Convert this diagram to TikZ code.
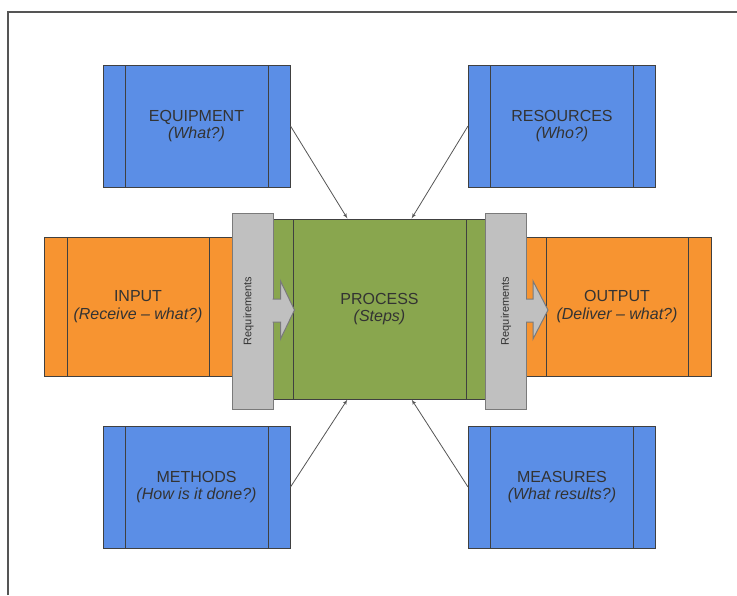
\documentclass[tikz,border=0pt]{standalone}
\usepackage{fontspec}
\setmainfont{Liberation Sans}
\usetikzlibrary{shapes,arrows,calc}
\definecolor{supblue}{HTML}{5B8EE6}
\definecolor{floworange}{HTML}{F79431}
\definecolor{coregreen}{HTML}{89A64E}
\definecolor{reqgray}{HTML}{C0C0C0}
\definecolor{edgegray}{HTML}{404040}
\definecolor{reqedge}{HTML}{7A7A7A}
\definecolor{textgray}{HTML}{333333}
\definecolor{linkgray}{HTML}{555555}
\tikzset{bars/.style={path picture={
  \draw[edgegray, line width=1pt] ([xshift=#1]path picture bounding box.north west) -- ([xshift=#1]path picture bounding box.south west);
  \draw[edgegray, line width=1pt] ([xshift=-#1]path picture bounding box.north east) -- ([xshift=-#1]path picture bounding box.south east);}}}
\tikzstyle{box} = [rectangle, draw=edgegray, line width=1pt, text=textgray,
    align=center, font=\fontsize{16}{17.5}\selectfont]
\tikzstyle{support} = [box, fill=supblue, bars=22pt, minimum width=187, minimum height=122]
\tikzstyle{flow} = [box, fill=floworange, bars=23pt, minimum width=188, minimum height=139]
\tikzstyle{core} = [box, fill=coregreen, bars=20pt, minimum width=213, minimum height=180]
\tikzstyle{req} = [rectangle, draw=reqedge, fill=reqgray, line width=1pt, minimum width=41, minimum height=196]
\tikzstyle{reqtext} = [rotate=90, text=textgray, font=\fontsize{11}{13}\selectfont]
\tikzstyle{line} = [draw, linkgray, line width=0.8pt, -latex']

\begin{document}
\begin{tikzpicture}[x=1pt, y=-1pt]
  \useasboundingbox (0,0) rectangle (737,595);
  \draw [linkgray, line width=1.5pt] (8,595) -- (8,12) -- (737,12);
  % who and what around the process
  \node [support] (equip) at (196.5,126) {EQUIPMENT\\\textit{(What?)}};
  \node [support] (res) at (562,126) {RESOURCES\\\textit{(Who?)}};
  \node [support] (meth) at (196.5,487) {METHODS\\\textit{(How is it done?)}};
  \node [support] (meas) at (562,487) {MEASURES\\\textit{(What results?)}};
  % input -> process -> output
  \node [flow] (in) at (138,306.5) {INPUT\\\textit{(Receive -- what?)}};
  \node [flow] (out) at (617,306.5) {OUTPUT\\\textit{(Deliver -- what?)}};
  \node [core] (proc) at (379.5,309) {PROCESS\\\textit{(Steps)}};
  \node [req] (reqin) at (252.5,311) {};
  \node [req] (reqout) at (506,311) {};
  \filldraw [reqedge, fill=reqgray, line width=1pt] ($(reqin.east)+(-1,-12)$)
    -- ++(8,0) -- ++(0,-18) -- ++(14,29) -- ++(-14,29) -- ++(0,-17) -- ++(-8,0);
  \filldraw [reqedge, fill=reqgray, line width=1pt] ($(reqout.east)+(-1,-12)$)
    -- ++(7,0) -- ++(0,-18) -- ++(15,29) -- ++(-15,29) -- ++(0,-17) -- ++(-7,0);
  \node [reqtext] (reqinlabel) at ($(reqin.center)+(-4,0)$) {Requirements};
  \node [reqtext] (reqoutlabel) at ($(reqout.center)+(0,0)$) {Requirements};
  % links into the process
  \coordinate (topA) at ($(proc.north west)!.35!(proc.north east)$);
  \coordinate (topB) at ($(proc.north west)!.65!(proc.north east)$);
  \coordinate (botA) at ($(proc.south west)!.35!(proc.south east)$);
  \coordinate (botB) at ($(proc.south west)!.65!(proc.south east)$);
  \path [line] (equip.east) -- (topA);
  \path [line] (res.west) -- (topB);
  \path [line] (meth.east) -- (botA);
  \path [line] (meas.west) -- (botB);
\end{tikzpicture}
\end{document}
